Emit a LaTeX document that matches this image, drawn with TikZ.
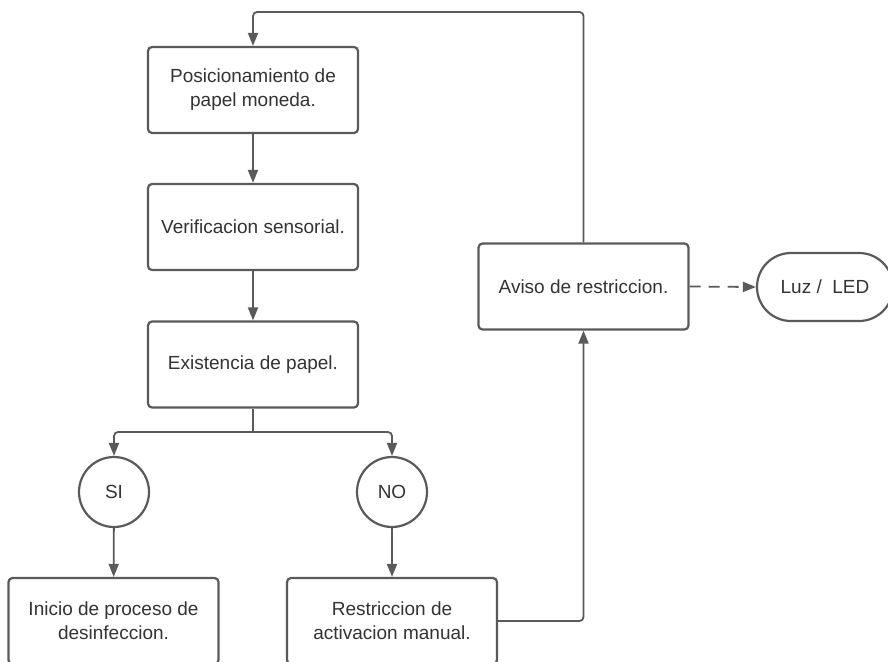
\documentclass[tikz,border=0pt]{standalone}
\usepackage{fontspec}
\setmainfont{Liberation Sans}
\usetikzlibrary{arrows.meta}
\definecolor{edge}{HTML}{5A5A5A}
\definecolor{ink}{HTML}{333333}
\tikzset{
  x=1pt, y=-1pt,
  stepbox/.style={draw=edge, line width=2.2pt, rounded corners=4pt, fill=white,
    minimum width=210pt, minimum height=86pt, align=center, text=ink,
    font=\fontsize{19}{24}\selectfont, inner sep=0pt},
  choice/.style={draw=edge, line width=2.2pt, circle, minimum size=70pt, text=ink,
    font=\fontsize{19}{24}\selectfont, inner sep=0pt},
  term/.style={draw=edge, line width=2.2pt, rounded corners=34pt,
    minimum width=136pt, minimum height=68pt, text=ink,
    font=\fontsize{19}{24}\selectfont, inner sep=0pt},
  conn/.style={draw=edge, line width=1.8pt, rounded corners=4pt,
    -{Triangle[length=13pt,width=10pt]}},
  plainconn/.style={draw=edge, line width=1.8pt, rounded corners=4pt},
}
\begin{document}
\begin{tikzpicture}
\useasboundingbox (0,0) rectangle (888,661);
\clip (0,0) rectangle (888,661);

% process boxes of the main column
\node[stepbox] (pos) at (253,90) {Posicionamiento de\\papel moneda.};
\node[stepbox] (ver) at (253,227) {Verificacion sensorial.};
\node[stepbox] (exi) at (253,364.5) {Existencia de papel.};

% decision outcomes
\node[choice] (si) at (114,492) {SI};
\node[choice] (no) at (392,492) {NO};

% result boxes (lower edge runs past the page)
\node[stepbox] (ini) at (113.5,621) {Inicio de proceso de\\desinfeccion.};
\node[stepbox] (res) at (392,621) {Restriccion de\\activacion manual.};

% warning and its indicator
\node[stepbox] (avi) at (583.5,286.5) {Aviso de restriccion.};
\node[term] (luz) at (825,287) {Luz /\ \ LED};

\coordinate (split) at (253,432);
\coordinate (loop) at (583.5,12);

% main flow
\draw[conn] (pos) -- (ver);
\draw[conn] (ver) -- (exi);
\draw[plainconn] (exi.south) -- (split);
\draw[conn] (split) -| (si.north);
\draw[conn] (split) -| (no.north);
\draw[conn] (si) -- (ini);
\draw[conn] (no) -- (res);

% restriction path back to the start
\draw[conn] (res.east) -| (avi.south);
\draw[conn] (avi.north) -- (loop) -| (pos.north);

% signal to the indicator
\draw[conn, rounded corners=0pt, dash pattern=on 11pt off 8pt] (avi.east) -- (luz.west);
\end{tikzpicture}
\end{document}
